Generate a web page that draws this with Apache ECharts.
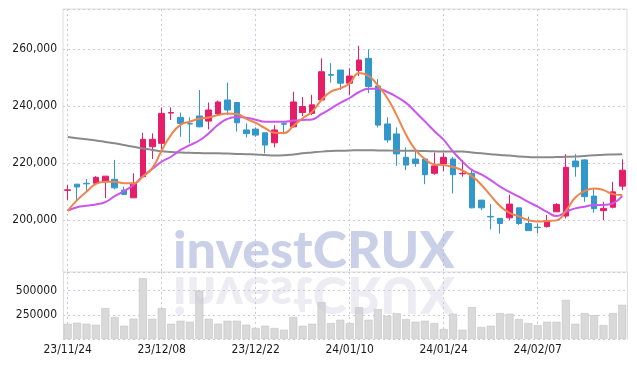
<!DOCTYPE html>
<html><head><meta charset="utf-8">
<script src="https://cdn.jsdelivr.net/npm/echarts@6/dist/echarts.min.js"></script>
<style>html,body{margin:0;padding:0;background:#fff}#c{width:637px;height:366px}</style>
</head><body><div id="c"></div>
<script>
const dates = ['23/11/24','23/11/27','23/11/28','23/11/29','23/11/30','23/12/01','23/12/04','23/12/05','23/12/06','23/12/07',
'23/12/08','23/12/11','23/12/12','23/12/13','23/12/14','23/12/15','23/12/18','23/12/19','23/12/20','23/12/21',
'23/12/22','23/12/26','23/12/27','23/12/28','24/01/02','24/01/03','24/01/04','24/01/05','24/01/08','24/01/09',
'24/01/10','24/01/11','24/01/12','24/01/15','24/01/16','24/01/17','24/01/18','24/01/19','24/01/22','24/01/23',
'24/01/24','24/01/25','24/01/26','24/01/29','24/01/30','24/01/31','24/02/01','24/02/02','24/02/05','24/02/06',
'24/02/07','24/02/08','24/02/13','24/02/14','24/02/15','24/02/16','24/02/19','24/02/20','24/02/21','24/02/22'];

const opens = [210500,212700,213000,213000,213500,214400,210600,207900,215300,225800,
227000,237600,236100,233900,236600,234800,237300,242200,241300,231700,
232000,230700,227200,233900,232800,237800,237500,242200,251100,252700,
248100,252500,256800,247100,233800,230300,222100,221500,221500,216500,
219800,221500,216300,216500,207100,201400,200700,200900,204400,198900,
197600,197800,203000,201500,220800,221200,208500,203400,204600,212000];
const closes = [210700,211700,212800,215100,215500,211400,209100,213000,228400,228400,
237500,237800,234000,233800,232800,238700,241500,238700,234200,230400,
229900,226400,231700,233700,241500,239900,240500,252100,250900,248100,
250600,256200,246900,233400,228200,223300,219400,219900,216000,219100,
222100,216000,216500,204400,204400,201200,198900,205700,198900,196400,
197500,199900,205600,218600,218800,208300,204100,204200,210000,217600];
const lows = [207100,207100,209900,212700,207800,210900,208900,207900,215100,221500,
224900,235200,229300,227000,232600,231900,236900,236900,231100,229100,
229300,223500,225600,230200,232600,236600,236900,242000,248300,245700,
244000,250600,244600,232600,227200,219100,217600,218800,212700,216000,
217200,209500,215300,204200,203600,196800,195400,200100,198400,196400,
195400,197500,203000,200700,215300,206500,202700,200100,204200,210600];
const highs = [212400,212700,214500,215500,215500,221200,211800,216500,230700,230500,
239600,239600,237800,236100,245700,241300,242000,248300,241300,234000,
232600,230700,233400,234600,245100,243200,244000,256800,255100,252700,
253300,261200,259900,249500,236100,232600,225600,224600,221500,223800,
223700,222300,221200,217600,207100,205700,200700,209000,204400,201300,
198900,201900,206000,223200,223200,221400,210900,206500,213500,221400];

const ma5 = [203300,207100,210000,212800,213500,213500,213000,213000,215400,218300,
224500,230000,233500,234600,235600,236100,236900,237500,237300,235600,
234200,232300,230700,230600,233100,235800,238100,242200,245100,246300,
248100,251700,250700,247300,242900,236800,230000,224700,221500,219600,
219400,218700,217500,215500,212500,208700,205000,202600,201400,200100,
199600,199800,200000,203400,208000,210300,211200,210600,209200,208900];
const ma20 = [203400,204600,205100,205600,206400,208500,210300,212400,215500,218000,
220600,222300,224700,226400,228000,230500,233500,235600,236200,236000,
235300,234600,234600,234600,235000,235200,235400,237300,239200,241200,
242900,245000,246100,246100,245000,243300,241200,238000,234700,231300,
228200,224100,220600,217700,216100,214100,211800,210000,208300,206500,
204800,203000,201500,203000,204200,204800,205400,205400,206000,208500];
const ma120 = [229200,228800,228400,228000,227500,227000,226400,225800,225200,224700,
224200,224000,223800,223700,223600,223500,223500,223400,223300,223200,
223100,222900,222700,222800,223100,223500,223800,224100,224300,224400,
224500,224600,224600,224500,224500,224400,224400,224400,224300,224200,
224100,224100,224100,223800,223500,223200,222900,222700,222400,222200,
222100,222100,222200,222300,222400,222600,222800,223000,223100,223200];
const volumes = [157400,167700,157400,147100,318900,226300,136800,208800,627600,208800,
318900,157400,188300,178000,500000,208800,157400,188300,188300,147100,
113200,136800,113200,95700,226300,136800,157400,380700,164600,198600,
164600,329200,198600,308600,239700,267500,205800,178000,188300,164600,
102900,260300,95700,329200,123500,136800,267500,260300,205800,164600,
144000,178000,178000,404300,157400,267500,246900,144000,267500,352900];

const UP = '#e61e6a', DOWN = '#3298cb';
const FONT = "'DejaVu Sans Condensed','Roboto Condensed','Liberation Sans Narrow',Roboto,sans-serif";
const WM_FONT = "900 52px Lato";
const candleData = dates.map((d, i) => [opens[i], closes[i], lows[i], highs[i]]);
const gridLine = {show: true, interval: 9, alignWithLabel: true, lineStyle: {color: '#c9cadf', width: 1, type: [2, 3]}};

const chart = echarts.init(document.getElementById('c'), null, {renderer: 'canvas'});
chart.setOption({
  animation: false,
  backgroundColor: '#fff',
  grid: [
    {left: 63, right: 10, top: 9, bottom: 94, show: true, borderColor: '#dcdcdc', borderWidth: 1, backgroundColor: 'transparent'},
    {left: 63, right: 10, top: 272, bottom: 27}
  ],
  xAxis: [
    {type: 'category', gridIndex: 0, data: dates, boundaryGap: true,
     axisLine: {show: false}, axisTick: {show: false, alignWithLabel: true}, axisLabel: {show: false},
     splitLine: gridLine},
    {type: 'category', gridIndex: 1, data: dates, boundaryGap: true,
     axisLine: {show: false}, axisTick: {show: false, alignWithLabel: true},
     axisLabel: {interval: 9, color: '#1a1a1a', fontSize: 12, fontFamily: FONT, margin: 5},
     splitLine: gridLine}
  ],
  yAxis: [
    {type: 'value', gridIndex: 0, min: 181900, max: 274100, splitNumber: 5,
     axisLine: {show: false}, axisTick: {show: false},
     axisLabel: {showMinLabel: false, showMaxLabel: false, color: '#1a1a1a', fontSize: 12, fontFamily: FONT, margin: 6},
     splitLine: {show: true, lineStyle: {color: '#c9cadf', width: 1, type: [2, 3]}}},
    {type: 'value', gridIndex: 1, min: 0, max: 692000, interval: 250000,
     axisLine: {show: true, lineStyle: {color: '#dcdcdc'}}, axisTick: {show: false},
     axisLabel: {showMinLabel: false, showMaxLabel: false, color: '#1a1a1a', fontSize: 12, fontFamily: FONT, margin: 6,
                 formatter: v => String(v)},
     splitLine: {show: true, lineStyle: {color: '#c9cadf', width: 1, type: [2, 3]}}},
    {type: 'value', gridIndex: 1, position: 'right', min: 0, max: 692000,
     axisLine: {show: true, lineStyle: {color: '#dcdcdc'}}, axisTick: {show: false},
     axisLabel: {show: false}, splitLine: {show: false}}
  ],
  series: [
    {type: 'candlestick', xAxisIndex: 0, yAxisIndex: 0, data: candleData, barWidth: 6,
     itemStyle: {color: UP, color0: DOWN, borderColor: UP, borderColor0: DOWN, borderWidth: 1}},
    {type: 'line', xAxisIndex: 0, yAxisIndex: 0, data: ma120, showSymbol: false, smooth: true,
     lineStyle: {color: '#8a8a8a', width: 2}},
    {type: 'line', xAxisIndex: 0, yAxisIndex: 0, data: ma20, showSymbol: false, smooth: true,
     lineStyle: {color: '#cc55ee', width: 2}},
    {type: 'line', xAxisIndex: 0, yAxisIndex: 0, data: ma5, showSymbol: false, smooth: true,
     lineStyle: {color: '#f0844a', width: 2}},
    {type: 'bar', xAxisIndex: 1, yAxisIndex: 1, data: volumes, barWidth: 8,
     itemStyle: {color: '#d9d9d9', borderColor: '#c2c2c2', borderWidth: 0.6}}
  ],
  graphic: [
    {type: 'text', x: 173, y: 225, z: 100, silent: true,
     style: {text: 'investCRUX', font: WM_FONT, fill: 'rgba(150,162,210,0.5)'}},
    {type: 'text', x: 173, y: 320, scaleY: -1, z: 99, silent: true,
     style: {text: 'investCRUX', font: WM_FONT, fill: 'rgba(200,200,218,0.35)'}}
  ]
});
</script></body></html>
